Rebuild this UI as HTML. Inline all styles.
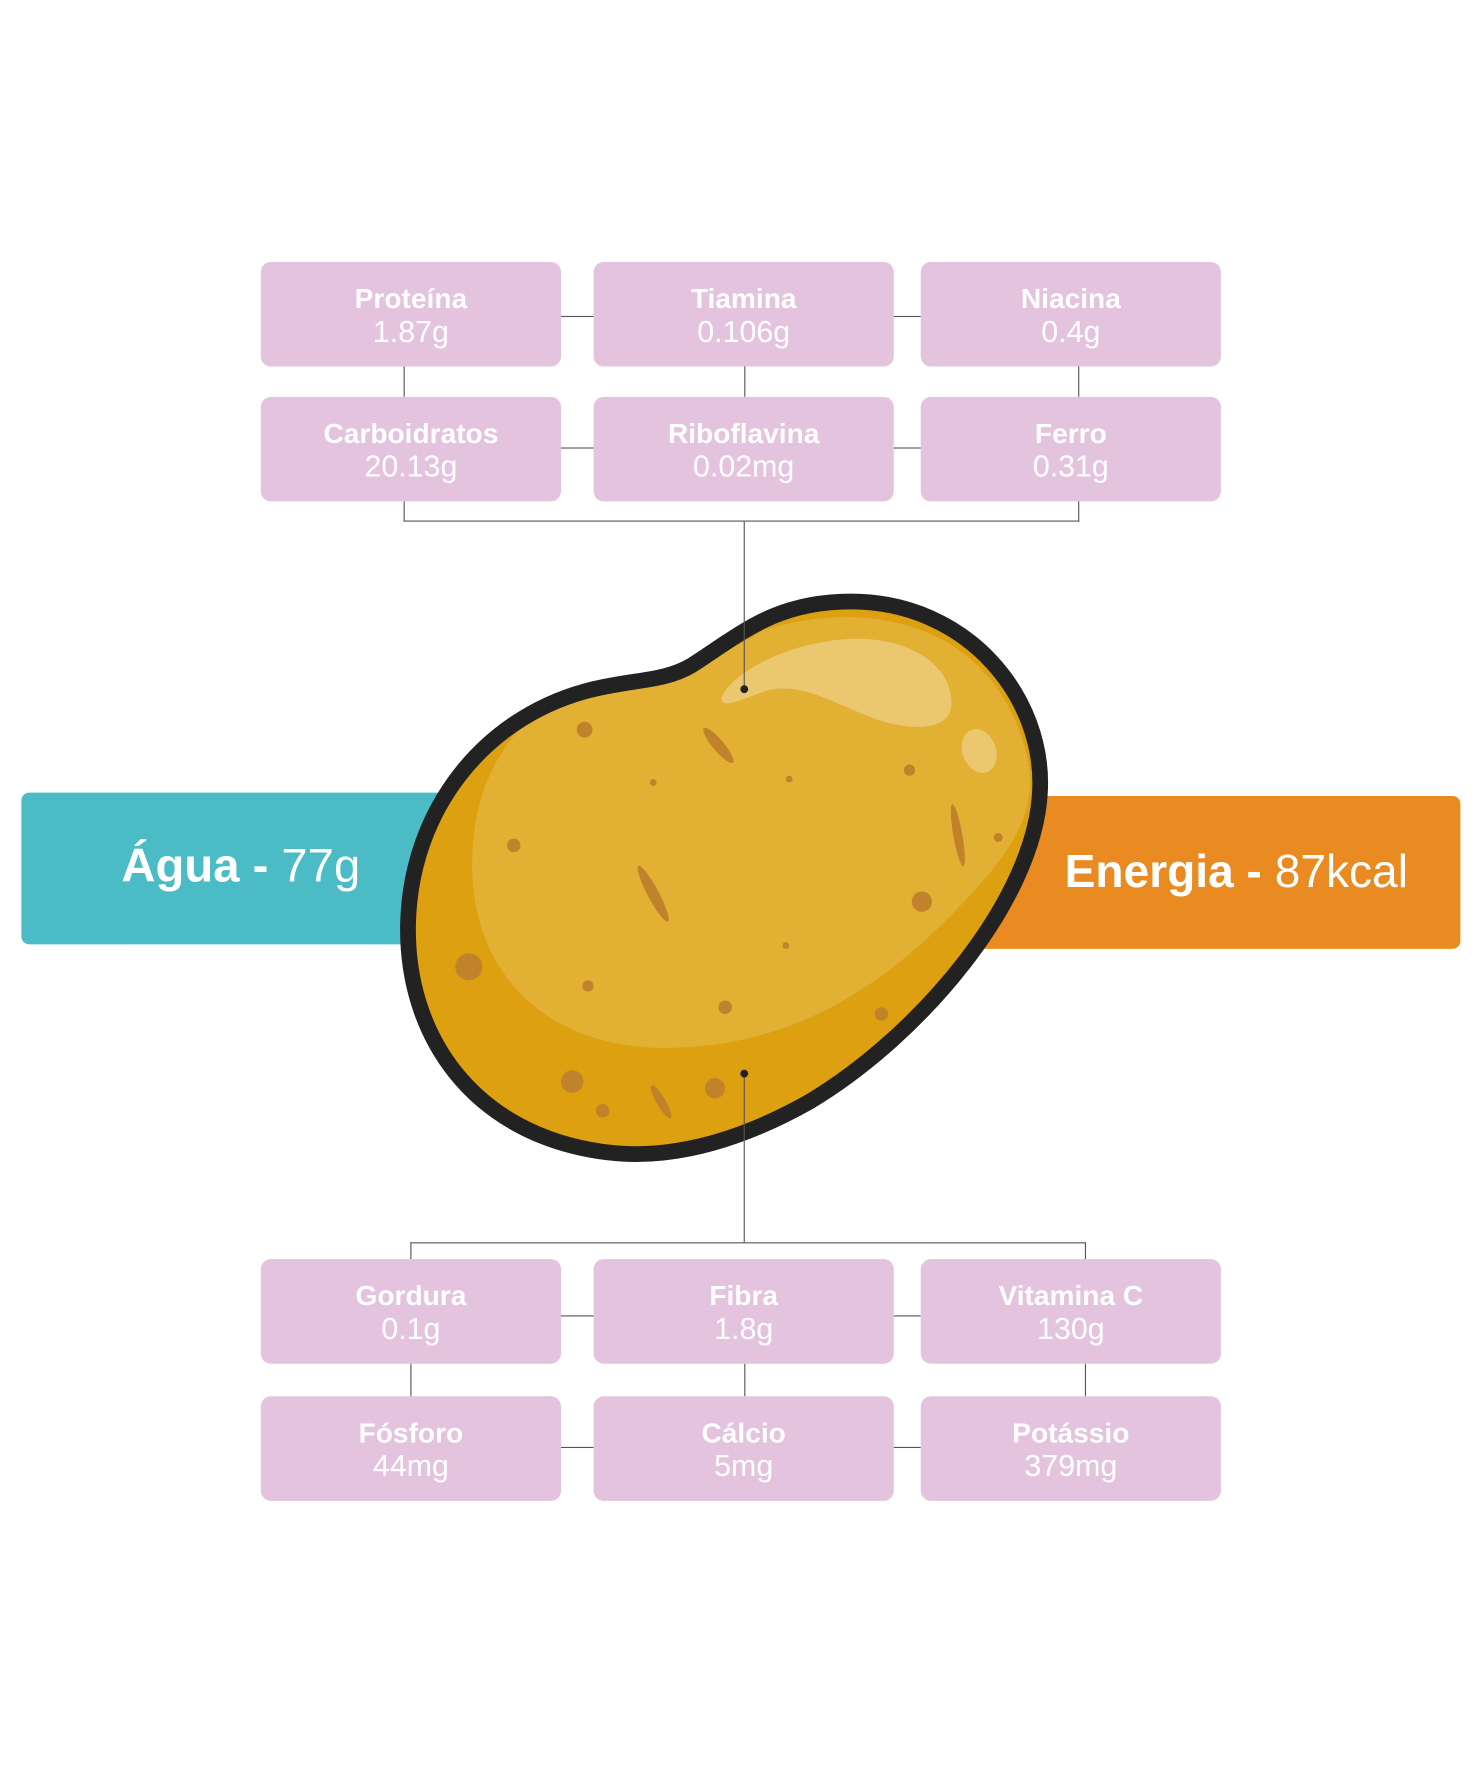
<!DOCTYPE html>
<html><head><meta charset="utf-8"><style>
html,body{margin:0;padding:0;background:#fff;width:1484px;height:1765px;overflow:hidden}
#w{position:absolute;left:0;top:0;width:1320px;height:1570px;transform:scale(1.12424);transform-origin:0 0;font-family:"Liberation Sans",sans-serif}
.b{position:absolute;width:267px;height:93px;background:#e3c3de;border-radius:9px;color:#fff;text-align:center}
.b .l{font-weight:bold;font-size:25px;margin-top:19px;line-height:28px}
.b .v{font-size:27px;line-height:30px}
.ln{position:absolute;background:#555}
</style></head><body><div id="w">
<!-- connectors -->
<div class="ln" style="left:499px;top:281px;width:29px;height:1px"></div>
<div class="ln" style="left:795px;top:281px;width:24px;height:1px"></div>
<div class="ln" style="left:499px;top:398px;width:29px;height:1px"></div>
<div class="ln" style="left:795px;top:398px;width:24px;height:1px"></div>
<div class="ln" style="left:359px;top:326px;width:1px;height:27px"></div>
<div class="ln" style="left:662px;top:326px;width:1px;height:27px"></div>
<div class="ln" style="left:959px;top:326px;width:1px;height:27px"></div>
<div class="ln" style="left:359px;top:446px;width:1px;height:18px"></div>
<div class="ln" style="left:959px;top:446px;width:1px;height:18px"></div>
<div class="ln" style="left:359px;top:463px;width:601px;height:1px"></div>
<div class="ln" style="left:499px;top:1170px;width:29px;height:1px"></div>
<div class="ln" style="left:795px;top:1170px;width:24px;height:1px"></div>
<div class="ln" style="left:499px;top:1287px;width:29px;height:1px"></div>
<div class="ln" style="left:795px;top:1287px;width:24px;height:1px"></div>
<div class="ln" style="left:365px;top:1213px;width:1px;height:29px"></div>
<div class="ln" style="left:662px;top:1213px;width:1px;height:29px"></div>
<div class="ln" style="left:965px;top:1213px;width:1px;height:29px"></div>
<div class="ln" style="left:365px;top:1105px;width:601px;height:1px"></div>
<div class="ln" style="left:365px;top:1105px;width:1px;height:15px"></div>
<div class="ln" style="left:965px;top:1105px;width:1px;height:15px"></div>
<!-- boxes -->
<div class="b" style="left:232px;top:233px"><div class="l">Proteína</div><div class="v">1.87g</div></div>
<div class="b" style="left:528px;top:233px"><div class="l">Tiamina</div><div class="v">0.106g</div></div>
<div class="b" style="left:819px;top:233px"><div class="l">Niacina</div><div class="v">0.4g</div></div>
<div class="b" style="left:232px;top:353px"><div class="l">Carboidratos</div><div class="v">20.13g</div></div>
<div class="b" style="left:528px;top:353px"><div class="l">Riboflavina</div><div class="v">0.02mg</div></div>
<div class="b" style="left:819px;top:353px"><div class="l">Ferro</div><div class="v">0.31g</div></div>
<div class="b" style="left:232px;top:1120px"><div class="l">Gordura</div><div class="v">0.1g</div></div>
<div class="b" style="left:528px;top:1120px"><div class="l">Fibra</div><div class="v">1.8g</div></div>
<div class="b" style="left:819px;top:1120px"><div class="l">Vitamina C</div><div class="v">130g</div></div>
<div class="b" style="left:232px;top:1242px"><div class="l">Fósforo</div><div class="v">44mg</div></div>
<div class="b" style="left:528px;top:1242px"><div class="l">Cálcio</div><div class="v">5mg</div></div>
<div class="b" style="left:819px;top:1242px"><div class="l">Potássio</div><div class="v">379mg</div></div>
<!-- bars -->
<div style="position:absolute;left:19px;top:705px;width:420px;height:135px;background:#4bbcc6;border-radius:7px"></div>
<div style="position:absolute;left:860px;top:708px;width:439px;height:136px;background:#e98b21;border-radius:7px"></div>
<div style="position:absolute;left:108px;top:745px;color:#fff;font-size:42px;line-height:50px;white-space:nowrap"><b>Água -</b> 77g</div>
<div style="position:absolute;left:947px;top:750px;color:#fff;font-size:41px;line-height:50px;white-space:nowrap"><b>Energia -</b> 87kcal</div>
<!-- potato -->
<svg style="position:absolute;left:0;top:0" width="1320" height="1570" viewBox="0 0 1320 1570">
<defs><clipPath id="c"><path id="p" d="M757 535 C860 535 930 620 925 705 C920 800 820 920 720 980 C640 1025 580 1030 540 1025 C420 1010 360 920 363 820 C366 720 430 640 520 615 C560 604 590 607 615 592 C660 563 690 535 757 535 Z"/></clipPath></defs>
<use href="#p" fill="#dca010"/>
<g clip-path="url(#c)">
<path d="M470 640 C550 600 620 600 680 560 C780 530 880 560 910 660 C930 720 900 760 840 820 C760 900 680 930 600 932 C480 935 420 860 420 770 C420 710 440 670 470 640Z" fill="#e2b134"/>
<path d="M642 620 C650 600 700 570 760 568 C820 568 850 600 846 630 C842 650 810 650 780 640 C740 625 710 605 680 615 C660 622 640 632 642 620Z" fill="#ebc870"/>
<ellipse cx="871" cy="668" rx="15" ry="20" transform="rotate(-20 871 668)" fill="#ebc870"/>
</g>
<use href="#p" fill="none" stroke="#222" stroke-width="14"/>
<g fill="#c0822a">
<circle cx="520" cy="649" r="7"/><circle cx="457" cy="752" r="6"/><circle cx="417" cy="860" r="12"/><circle cx="523" cy="877" r="5"/><circle cx="509" cy="962" r="10"/><circle cx="536" cy="988" r="6"/><circle cx="636" cy="968" r="9"/><circle cx="645" cy="896" r="6"/><circle cx="784" cy="902" r="6"/><circle cx="820" cy="802" r="9"/><circle cx="809" cy="685" r="5"/><circle cx="888" cy="745" r="4"/><circle cx="702" cy="693" r="3"/><circle cx="699" cy="841" r="3"/><circle cx="581" cy="696" r="3"/>
<ellipse cx="639" cy="663" rx="5" ry="20" transform="rotate(-40 639 663)"/>
<ellipse cx="581" cy="795" rx="5" ry="28" transform="rotate(-28 581 795)"/>
<ellipse cx="852" cy="743" rx="4" ry="28" transform="rotate(-10 852 743)"/>
<ellipse cx="588" cy="980" rx="4" ry="17" transform="rotate(-30 588 980)"/>
</g>
<line x1="662" y1="464" x2="662" y2="613" stroke="#555" stroke-width="1"/>
<circle cx="662" cy="613" r="3.5" fill="#222"/>
<line x1="662" y1="955" x2="662" y2="1105" stroke="#555" stroke-width="1"/>
<circle cx="662" cy="955" r="3.5" fill="#222"/>
</svg>
</div></body></html>
